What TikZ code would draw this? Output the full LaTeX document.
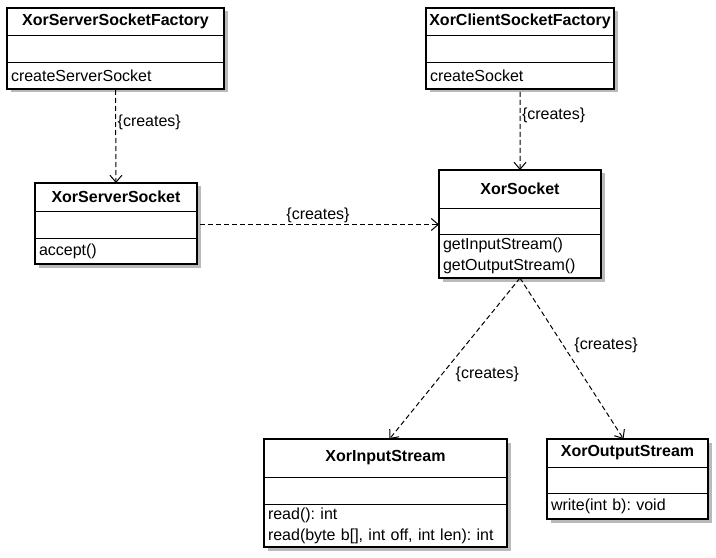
\documentclass[tikz,border=0pt]{standalone}
\usepackage{fontspec}
\setmainfont{Liberation Sans}
\usetikzlibrary{positioning,shadows,arrows.meta}

\tikzset{
  part/.style={draw, fill=white, line width=0.8bp, inner sep=0pt, outer sep=0pt,
    minimum width=#1,
    drop shadow={shadow xshift=3.5bp, shadow yshift=-3.5bp, fill=black!27, opacity=1}},
  clsname/.style 2 args={part=#1, minimum height=#2, font=\fontsize{16bp}{21bp}\selectfont\bfseries},
  clsattr/.style 2 args={part=#1, minimum height=#2},
  clsops/.style n args={3}{part=#1, minimum height=#2, text width=#3, align=left, inner xsep=4bp},
  frame/.style={draw, line width=1.6bp},
  dep/.style={line width=1bp, dash pattern=on 5bp off 3bp, -{Straight Barb[length=7bp,width=12bp]}},
  lbl/.style={inner sep=2bp, outer sep=0pt}
}

\begin{document}
\frenchspacing
\begin{tikzpicture}[x=1bp, y=-1bp, font=\fontsize{16bp}{21bp}\selectfont]

\useasboundingbox (0,0) rectangle (716,558);

% server side
\node[clsname={217bp}{27bp}, anchor=north west] (ssf) at (7,8) {XorServerSocketFactory};
\node[clsattr={217bp}{27bp}, below=0pt of ssf] (ssf-a) {};
\node[clsops={217bp}{27bp}{209bp}, below=0pt of ssf-a] (ssf-m) {createServerSocket};
\draw[frame] (ssf.north west) rectangle (ssf-m.south east);

\node[clsname={162bp}{28bp}, anchor=north west] (ss) at (35,183) {XorServerSocket};
\node[clsattr={162bp}{27bp}, below=0pt of ss] (ss-a) {};
\node[clsops={162bp}{26bp}{154bp}, below=0pt of ss-a] (ss-m) {accept()};
\draw[frame] (ss.north west) rectangle (ss-m.south east);

% client side
\node[clsname={188bp}{27bp}, anchor=north west] (csf) at (426,8) {XorClientSocketFactory};
\node[clsattr={188bp}{27bp}, below=0pt of csf] (csf-a) {};
\node[clsops={188bp}{27bp}{180bp}, below=0pt of csf-a] (csf-m) {createSocket};
\draw[frame] (csf.north west) rectangle (csf-m.south east);

\node[clsname={162bp}{38bp}, anchor=north west] (xs) at (439,170) {XorSocket};
\node[clsattr={162bp}{26bp}, below=0pt of xs] (xs-a) {};
\node[clsops={162bp}{44bp}{154bp}, below=0pt of xs-a] (xs-m) {getInputStream()\\getOutputStream()};
\draw[frame] (xs.north west) rectangle (xs-m.south east);

% streams
\node[clsname={243bp}{38bp}, anchor=north west] (xis) at (264,439) {XorInputStream};
\node[clsattr={243bp}{27bp}, below=0pt of xis] (xis-a) {};
\node[clsops={243bp}{43bp}{235bp}, below=0pt of xis-a] (xis-m) {read(): int\\read(byte b[], int off, int len): int};
\draw[frame] (xis.north west) rectangle (xis-m.south east);

\node[clsname={161bp}{28bp}, anchor=north west] (xos) at (547,439) {XorOutputStream};
\node[clsattr={161bp}{26bp}, below=0pt of xos] (xos-a) {};
\node[clsops={161bp}{26bp}{153bp}, below=0pt of xos-a] (xos-m) {write(int b): void};
\draw[frame] (xos.north west) rectangle (xos-m.south east);

% dependencies
\draw[dep, shorten <=1bp] (ssf-m.south) -- node[lbl, pos=.35, right] (l-ssf) {\{creates\}} (ss.north);
\draw[dep, shorten <=3bp] (csf-m.south) -- node[lbl, pos=.33, right] (l-csf) {\{creates\}} (xs.north);
\draw[dep, shorten <=3bp] (ss-a.east) -- node[lbl, pos=.5, above] (l-ss) {\{creates\}} (ss-a.east -| xs-a.west);
\draw[dep] (xs-m.south) -- node[lbl, pos=.6, right=12bp] (l-xis) {\{creates\}} ([xshift=4bp]xis.north);
\draw[dep] (xs-m.south) -- node[lbl, pos=.42, right=9bp] (l-xos) {\{creates\}} ([xshift=-4bp]xos.north);

\end{tikzpicture}
\end{document}
